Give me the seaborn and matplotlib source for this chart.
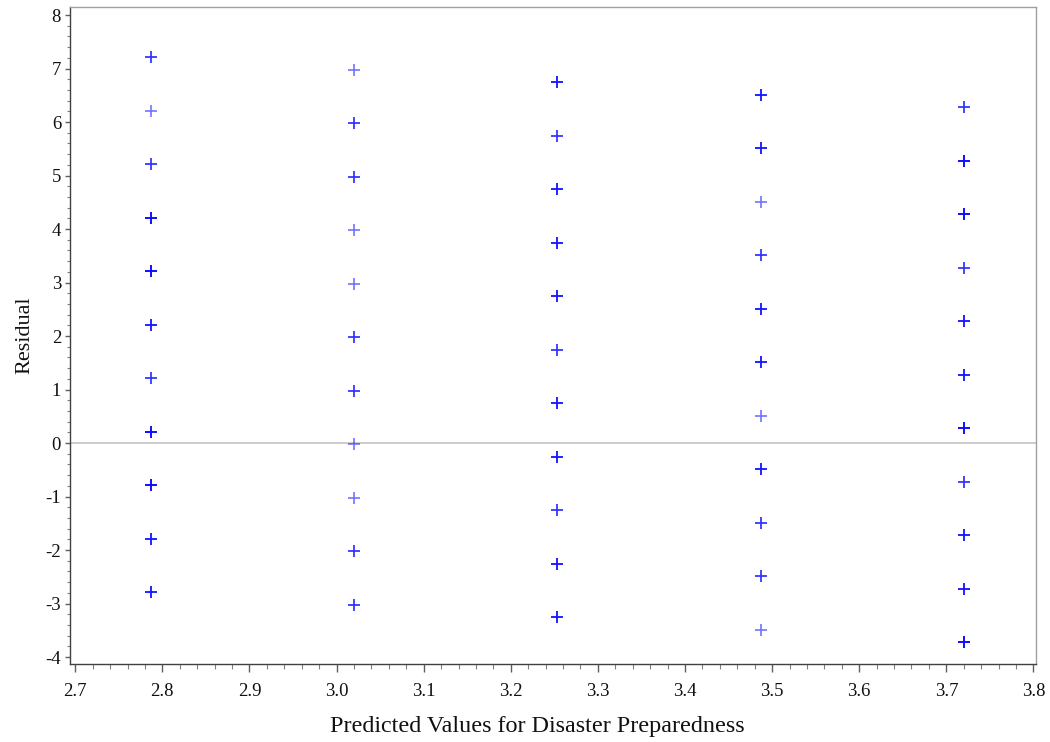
import numpy as np
import pandas as pd
import matplotlib
matplotlib.use("Agg")
import matplotlib.pyplot as plt
import seaborn as sns
from matplotlib.ticker import MultipleLocator, FormatStrFormatter

# Predicted values (one column of points each)
predicted = [2.787, 3.020, 3.253, 3.487, 3.720]
# Residuals for each predicted value (top to bottom)
residuals = [
    [7.213, 6.213, 5.213, 4.213, 3.213, 2.213, 1.213, 0.213, -0.787, -1.787, -2.787],
    [6.980, 5.980, 4.980, 3.980, 2.980, 1.980, 0.980, -0.020, -1.020, -2.020, -3.020],
    [6.747, 5.747, 4.747, 3.747, 2.747, 1.747, 0.747, -0.253, -1.253, -2.253, -3.253],
    [6.513, 5.513, 4.513, 3.513, 2.513, 1.513, 0.513, -0.487, -1.487, -2.487, -3.487],
    [6.280, 5.280, 4.280, 3.280, 2.280, 1.280, 0.280, -0.720, -1.720, -2.720, -3.720],
]
# Number of overlapping observations at each point (drives marker darkness)
counts = [
    [2, 1, 2, 4, 4, 3, 2, 4, 4, 3, 3],
    [1, 2, 2, 1, 1, 2, 2, 1, 1, 2, 2],
    [3, 2, 3, 3, 3, 2, 3, 3, 2, 3, 3],
    [3, 3, 1, 2, 3, 3, 1, 3, 2, 2, 1],
    [2, 4, 4, 2, 3, 3, 4, 2, 3, 3, 4],
]

rows = []
for p, res, cnt in zip(predicted, residuals, counts):
    for r, c in zip(res, cnt):
        for _ in range(c):
            rows.append({"Predicted": p, "Residual": r})
df = pd.DataFrame(rows)

sns.set_theme(style="white")
plt.rcParams["font.family"] = ["Liberation Serif", "DejaVu Serif"]
plt.rcParams["axes.unicode_minus"] = False

fig = plt.figure(figsize=(10.5, 7.42), dpi=100)
ax = fig.add_axes([0.0667, 0.1051, 0.92, 0.8855])

ax.axhline(0, color="#c8c8c8", lw=1.3, zorder=1)
sns.scatterplot(data=df, x="Predicted", y="Residual", ax=ax, marker="+",
                color="#0000ff", s=80, linewidth=1.2, alpha=0.55, zorder=3)

ax.set_xlim(2.694, 3.803)
ax.set_ylim(-4.13, 8.15)
ax.xaxis.set_major_locator(MultipleLocator(0.1))
ax.xaxis.set_minor_locator(MultipleLocator(0.02))
ax.xaxis.set_major_formatter(FormatStrFormatter("%.1f"))
ax.yaxis.set_major_locator(MultipleLocator(1))
ax.yaxis.set_minor_locator(MultipleLocator(0.2))
ax.yaxis.set_major_formatter(FormatStrFormatter("%d"))

ax.tick_params(axis="x", which="major", direction="out", length=5.5, width=1, color="#606060",
               labelsize=13.5, labelcolor="#111111", bottom=True, pad=8)
ax.tick_params(axis="x", which="minor", direction="out", length=3.5, width=0.8, color="#808080",
               bottom=True)
ax.tick_params(axis="y", which="major", direction="out", length=3.5, width=1, color="#606060",
               labelsize=13.5, labelcolor="#111111", left=True, pad=3)
ax.tick_params(axis="y", which="minor", direction="out", length=2.2, width=0.8, color="#808080",
               left=True)

for side in ["left", "bottom"]:
    ax.spines[side].set_color("#404040")
    ax.spines[side].set_linewidth(1.0)
for side in ["top", "right"]:
    ax.spines[side].set_color("#a0a0a0")
    ax.spines[side].set_linewidth(1.0)

ax.set_xlabel("Predicted Values for Disaster Preparedness", fontsize=17.4, color="#111111", labelpad=12)
ax.xaxis.label.set_x(0.4834)
ax.set_ylabel("Residual", fontsize=16, color="#111111", labelpad=8)

fig.savefig("out.png", dpi=100, facecolor="white")
